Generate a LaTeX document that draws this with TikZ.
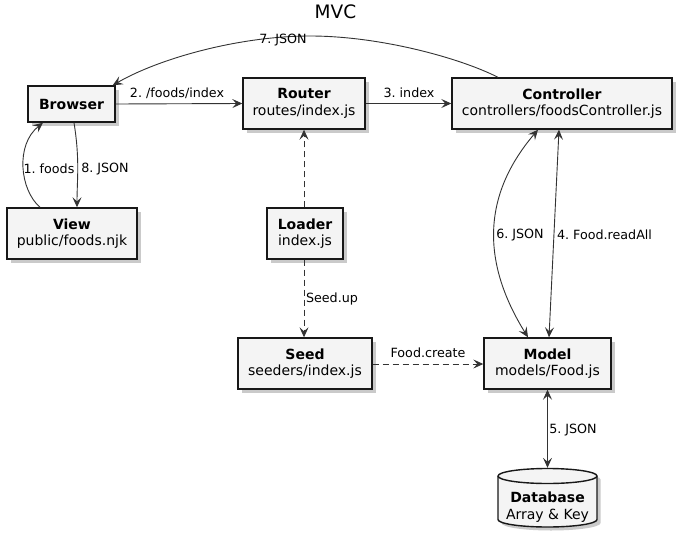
\documentclass[tikz,border=0pt]{standalone}
\usepackage{fontspec}
\setmainfont{DejaVu Sans}
\usetikzlibrary{arrows.meta,shadows}
\definecolor{boxfill}{HTML}{F4F4F4}
\definecolor{boxline}{HTML}{181818}
\definecolor{arrowc}{HTML}{333333}
\tikzset{
  compbox/.style={draw=boxline, fill=boxfill, line width=1.4pt, align=center,
    inner sep=0pt, font=\fontsize{14}{16.5}\selectfont,
    drop shadow={shadow xshift=3.5pt, shadow yshift=-3.5pt, opacity=0.35, fill=black!60}},
  conn/.style={draw=arrowc, line width=0.9pt, -{Stealth[length=10pt,width=9pt,inset=4pt]}},
  bidir/.style={conn, {Stealth[length=10pt,width=9pt,inset=4pt]}-{Stealth[length=10pt,width=9pt,inset=4pt]}},
  dashconn/.style={conn, dash pattern=on 6pt off 4pt},
  lbl/.style={font=\fontsize{12.7}{14}\selectfont, inner sep=0pt, text=black},
}
\begin{document}
\frenchspacing
\begin{tikzpicture}[x=1pt,y=-1pt]
\useasboundingbox (0,0) rectangle (682,535);

\node[font=\fontsize{18.5}{20}\selectfont] (title) at (335.5,12) {MVC};

\node[compbox, minimum width=87pt, minimum height=36pt] (browser) at (71.5,104) {\textbf{Browser}};
\node[compbox, minimum width=122pt, minimum height=51pt] (router) at (304,103.5) {\textbf{Router}\\routes/index.js};
\node[compbox, minimum width=220pt, minimum height=51pt] (controller) at (562,103.5) {\textbf{Controller}\\controllers/foodsController.js};
\node[compbox, minimum width=130pt, minimum height=51pt] (view) at (72,233.5) {\textbf{View}\\public/foods.njk};
\node[compbox, minimum width=76pt, minimum height=51pt] (loader) at (305,233.5) {\textbf{Loader}\\index.js};
\node[compbox, minimum width=134pt, minimum height=51pt] (seed) at (305,363.5) {\textbf{Seed}\\seeders/index.js};
\node[compbox, minimum width=127pt, minimum height=51pt] (model) at (547.5,363.5) {\textbf{Model}\\models/Food.js};

% database cylinder
\path[draw=boxline, fill=boxfill, line width=1.4pt,
  drop shadow={shadow xshift=3.5pt, shadow yshift=-3.5pt, opacity=0.35, fill=black!60}]
  (498,476) -- (498,519.5) arc[start angle=180, end angle=360, x radius=49.5pt, y radius=7.5pt]
  -- (597,476) arc[start angle=0, end angle=180, x radius=49.5pt, y radius=7.5pt] -- cycle;
\draw[boxline, line width=1.4pt] (498,476) arc[start angle=180, end angle=360, x radius=49.5pt, y radius=7.5pt];
\node[minimum width=99pt, minimum height=59pt, inner sep=0pt] (db) at (547.5,497.5) {};
\node[align=center, font=\fontsize{14}{17}\selectfont, inner sep=0pt] (dbtext) at (547.5,507) {\textbf{Database}\\Array \& Key};

% connectors
\draw[conn] (browser.east) -- (router.west);
\node[lbl] (l2) at (177,93) {2. /foods/index};

\draw[conn] (router.east) -- (controller.west);
\node[lbl] (l3) at (409,92.5) {3. index};

\draw[conn] ([xshift=-64pt]controller.north) .. controls (460,58) and (380,36) .. (310,36)
  .. controls (240,36) and (160,58) .. ([xshift=-3pt]browser.north east);
\node[lbl] (l7) at (283,40) {7. JSON};

\draw[conn] ([xshift=-32pt]view.north) .. controls (20,190) and (15,145) .. ([xshift=-28.5pt]browser.south);
\node[lbl] (l1) at (49,169) {1. foods};

\draw[conn] ([xshift=2.5pt]browser.south) .. controls (80,160) and (77,180) .. ([xshift=5pt]view.north);
\node[lbl] (l8) at (105,169) {8. JSON};

\draw[dashconn] ([xshift=-1pt]loader.north) -- ([xshift=0pt]router.south);
\draw[dashconn] ([xshift=-1pt]loader.south) -- ([xshift=-1pt]seed.north);
\node[lbl] (lseed) at (332,299) {Seed.up};

\draw[dashconn] ([yshift=-0.5pt]seed.east) -- ([yshift=-0.5pt]model.west);
\node[lbl] (lcreate) at (428,353) {Food.create};

\draw[bidir] ([xshift=-19.5pt]model.north) .. controls (485,268) and (478,200) .. ([xshift=-24pt]controller.south);
\node[lbl] (l6) at (520,235) {6. JSON};

\draw[bidir] ([xshift=1.5pt]model.north) -- ([xshift=-3pt]controller.south);
\node[lbl] (l4) at (604.5,235) {4. Food.readAll};

\draw[bidir] (model.south) -- (db.north);
\node[lbl] (l5) at (573,430) {5. JSON};
\end{tikzpicture}
\end{document}
